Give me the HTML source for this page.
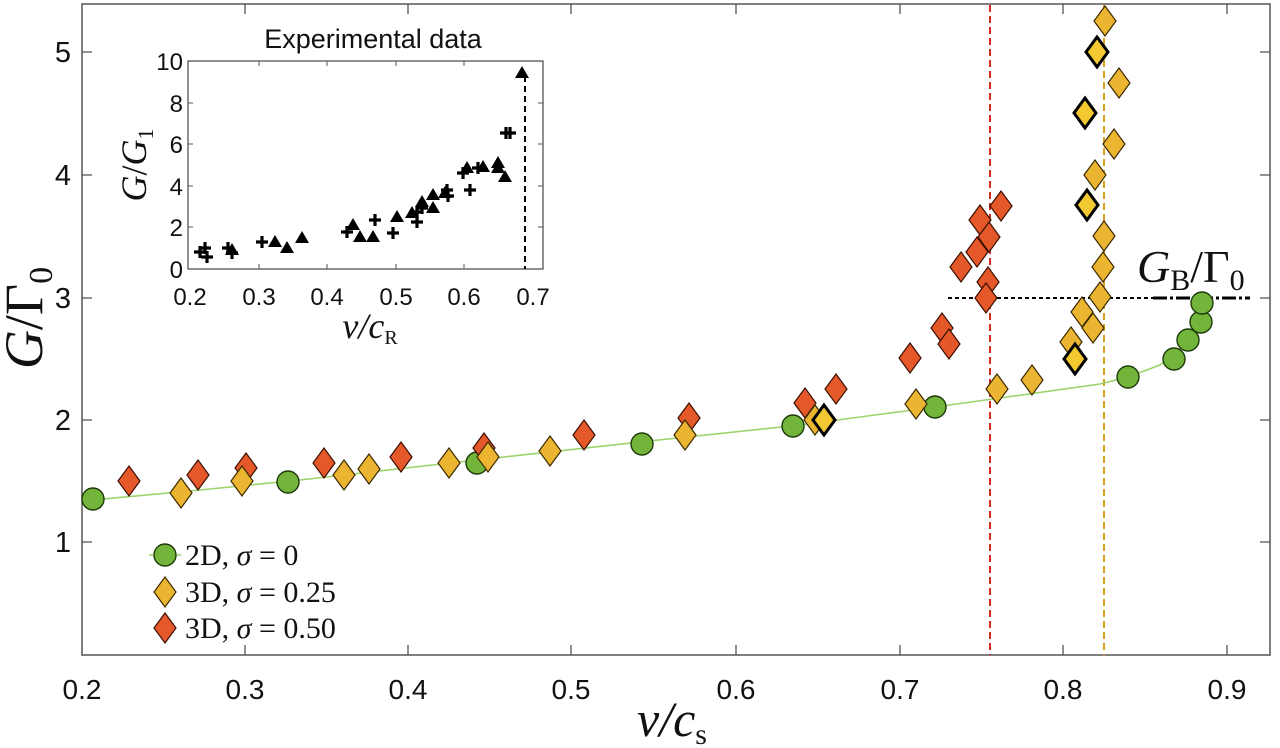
<!DOCTYPE html>
<html><head><meta charset="utf-8"><style>
html,body{margin:0;padding:0;background:#fff;width:1280px;height:748px;overflow:hidden}
svg{display:block}
.t{font-family:"Liberation Sans",Arial,sans-serif;fill:#111}
.s{font-family:"Liberation Serif","DejaVu Serif",serif;fill:#111}
</style></head><body>
<svg width="1280" height="748" viewBox="0 0 1280 748" xmlns="http://www.w3.org/2000/svg">
<defs>
<path id="dY" d="M0,-15 L11,0 L0,15 L-11,0 Z" fill="#EBB531" stroke="#3a2a00" stroke-width="1.2"/>
<path id="dB" d="M0,-15 L11,0 L0,15 L-11,0 Z" fill="#F2C930" stroke="#000" stroke-width="3"/>
<path id="dR" d="M0,-15 L11,0 L0,15 L-11,0 Z" fill="#E4582A" stroke="#3a1000" stroke-width="1.2"/>
<circle id="cG" r="11" fill="#72B53A" stroke="#1d3a08" stroke-width="1.4"/>
<path id="pl" d="M-6,0 H6 M0,-6 V6" stroke="#000" stroke-width="3.2"/>
<path id="tr" d="M0,-7 L7,5 L-7,5 Z" fill="#000"/>
</defs>
<rect x="82" y="4" width="1188" height="651" fill="none" stroke="#555" stroke-width="1.5"/>
<g stroke="#555" stroke-width="1.3">
<path d="M245,655v-10M408,655v-10M571,655v-10M736,655v-10M900,655v-10M1063,655v-10M1227,655v-10"/>
<path d="M245,4v10M408,4v10M571,4v10M736,4v10M900,4v10M1063,4v10M1227,4v10"/>
<path d="M82,542h10M82,420h10M82,298h10M82,175h10M82,52h10"/>
<path d="M1270,542h-10M1270,420h-10M1270,298h-10M1270,175h-10M1270,52h-10"/>
</g>
<g class="t" font-size="28" text-anchor="middle">
<text x="82" y="699">0.2</text><text x="245" y="699">0.3</text><text x="408" y="699">0.4</text><text x="571" y="699">0.5</text><text x="736" y="699">0.6</text><text x="900" y="699">0.7</text><text x="1063" y="699">0.8</text><text x="1227" y="699">0.9</text>
</g>
<g class="t" font-size="29" text-anchor="end">
<text x="71" y="552">1</text><text x="71" y="430">2</text><text x="71" y="308">3</text><text x="71" y="185">4</text><text x="71" y="62">5</text>
</g>
<text class="s" font-size="50" font-style="italic" x="672" y="736" text-anchor="middle">v/c<tspan font-size="30" font-style="normal" dy="8">s</tspan></text>
<text class="s" font-size="54" transform="translate(42,318) rotate(-90)" text-anchor="middle"><tspan font-style="italic">G</tspan>/Γ<tspan font-size="34" dy="10">0</tspan></text>
<line x1="990" y1="5" x2="990" y2="655" stroke="#D42A1E" stroke-width="2" stroke-dasharray="7,4"/>
<line x1="1104" y1="5" x2="1104" y2="655" stroke="#D9A020" stroke-width="2" stroke-dasharray="7,4"/>
<line x1="948" y1="298" x2="1153" y2="298" stroke="#000" stroke-width="2" stroke-dasharray="4,3"/>
<line x1="1153" y1="298" x2="1250" y2="298" stroke="#000" stroke-width="3" stroke-dasharray="14,3,3,3"/>
<text class="s" font-size="46" x="1137" y="282"><tspan font-style="italic">G</tspan><tspan font-size="30" dy="8">B</tspan><tspan dy="-8">/Γ</tspan><tspan font-size="30" dy="8">0</tspan></text>
<path d="M82,501 L200,490 L300,480 L450,463 L640,442 L800,425 L935,407 L1000,398 L1100,384 L1128,377 L1160,365 L1185,345 L1200,322 L1203,303" fill="none" stroke="#9CD36A" stroke-width="1.6"/>
<g>
<use href="#cG" x="93" y="499"/><use href="#cG" x="288" y="482"/><use href="#cG" x="477" y="463"/><use href="#cG" x="642" y="444"/><use href="#cG" x="793" y="426"/><use href="#cG" x="935" y="407"/>
<use href="#dR" x="129" y="481"/><use href="#dR" x="198" y="475"/><use href="#dR" x="246" y="468"/><use href="#dR" x="324" y="463"/><use href="#dR" x="401" y="457"/><use href="#dR" x="484" y="448"/><use href="#dR" x="584" y="435"/><use href="#dR" x="689" y="418"/><use href="#dR" x="805" y="403"/><use href="#dR" x="836" y="389"/><use href="#dR" x="910" y="358"/><use href="#dR" x="942" y="328"/><use href="#dR" x="949" y="344"/>
<use href="#dR" x="1001" y="206"/><use href="#dR" x="980" y="220"/><use href="#dR" x="989" y="237"/><use href="#dR" x="977" y="252"/><use href="#dR" x="961" y="267"/><use href="#dR" x="988" y="282"/><use href="#dR" x="986" y="298"/>
<use href="#dY" x="181" y="493"/><use href="#dY" x="242" y="481"/><use href="#dY" x="344" y="475"/><use href="#dY" x="369" y="469"/><use href="#dY" x="449" y="463"/><use href="#dY" x="488" y="457"/><use href="#dY" x="550" y="451"/><use href="#dY" x="685" y="435"/><use href="#dY" x="815" y="420"/><use href="#dY" x="916" y="404"/><use href="#dY" x="997" y="389"/><use href="#dY" x="1032" y="380"/>
<use href="#dY" x="1105" y="21"/><use href="#dY" x="1119" y="83"/><use href="#dY" x="1114" y="144"/><use href="#dY" x="1095" y="175"/><use href="#dY" x="1104" y="236"/><use href="#dY" x="1103" y="267"/><use href="#dY" x="1100" y="297"/><use href="#dY" x="1082" y="312"/><use href="#dY" x="1093" y="328"/><use href="#dY" x="1071" y="342"/>
<use href="#dB" x="824" y="420"/><use href="#dB" x="1097" y="52"/><use href="#dB" x="1085" y="113"/><use href="#dB" x="1087" y="205"/><use href="#dB" x="1075" y="359"/>
<use href="#cG" x="1128" y="377"/><use href="#cG" x="1174" y="359"/><use href="#cG" x="1188" y="340"/><use href="#cG" x="1201" y="322"/><use href="#cG" x="1202" y="303"/>
</g>
<line x1="149" y1="555" x2="182" y2="555" stroke="#9CD36A" stroke-width="1.5" stroke-dasharray="4,3"/>
<use href="#cG" x="165" y="555"/>
<use href="#dY" x="165" y="592"/>
<use href="#dR" x="165" y="628"/>
<g class="s" font-size="30">
<text x="185" y="565">2D, <tspan font-style="italic">σ</tspan> = 0</text>
<text x="185" y="602">3D, <tspan font-style="italic">σ</tspan> = 0.25</text>
<text x="185" y="638">3D, <tspan font-style="italic">σ</tspan> = 0.50</text>
</g>
<rect x="188" y="61" width="355" height="208" fill="#fff" stroke="#555" stroke-width="1.3"/>
<g stroke="#555" stroke-width="1">
<path d="M259,269v-5M327,269v-5M396,269v-5M464,269v-5M259,61v5M327,61v5M396,61v5M464,61v5"/>
<path d="M188,227h5M188,186h5M188,144h5M188,103h5M543,227h-5M543,186h-5M543,144h-5M543,103h-5"/>
</g>
<text class="t" font-size="27" x="373" y="48" text-anchor="middle">Experimental data</text>
<g class="t" font-size="24" text-anchor="end">
<text x="183" y="278">0</text><text x="183" y="236">2</text><text x="183" y="195">4</text><text x="183" y="153">6</text><text x="183" y="112">8</text><text x="183" y="70">10</text>
</g>
<g class="t" font-size="24" text-anchor="middle">
<text x="190" y="305">0.2</text><text x="259" y="305">0.3</text><text x="327" y="305">0.4</text><text x="396" y="305">0.5</text><text x="464" y="305">0.6</text><text x="533" y="305">0.7</text>
</g>
<text class="s" font-size="36" font-style="italic" x="370" y="338" text-anchor="middle">v/c<tspan font-size="20" font-style="normal" dy="6">R</tspan></text>
<text class="s" font-size="36" transform="translate(146,165) rotate(-90)" text-anchor="middle"><tspan font-style="italic">G</tspan>/<tspan font-style="italic">G</tspan><tspan font-size="22" dy="7">1</tspan></text>
<line x1="525" y1="76" x2="525" y2="269" stroke="#000" stroke-width="2" stroke-dasharray="6,4"/>
<g>
<use href="#pl" x="205" y="248"/><use href="#pl" x="207" y="257"/><use href="#pl" x="200" y="252"/><use href="#pl" x="228" y="248"/><use href="#pl" x="232" y="253"/><use href="#pl" x="262" y="242"/><use href="#pl" x="347" y="232"/><use href="#pl" x="375" y="220"/><use href="#pl" x="393" y="233"/><use href="#pl" x="417" y="222"/><use href="#pl" x="422" y="208"/><use href="#pl" x="447" y="190"/><use href="#pl" x="463" y="173"/><use href="#pl" x="470" y="190"/><use href="#pl" x="478" y="168"/><use href="#pl" x="510" y="133"/><use href="#pl" x="506" y="133"/><use href="#pl" x="417" y="212"/><use href="#pl" x="448" y="196"/>
<use href="#tr" x="232" y="250"/><use href="#tr" x="275" y="242"/><use href="#tr" x="287" y="248"/><use href="#tr" x="302" y="238"/><use href="#tr" x="353" y="225"/><use href="#tr" x="360" y="237"/><use href="#tr" x="373" y="237"/><use href="#tr" x="397" y="217"/><use href="#tr" x="412" y="213"/><use href="#tr" x="422" y="202"/><use href="#tr" x="433" y="195"/><use href="#tr" x="433" y="208"/><use href="#tr" x="445" y="193"/><use href="#tr" x="483" y="167"/><use href="#tr" x="498" y="163"/><use href="#tr" x="498" y="168"/><use href="#tr" x="505" y="177"/><use href="#tr" x="522" y="73"/><use href="#tr" x="467" y="168"/>
</g>
</svg>
</body></html>
